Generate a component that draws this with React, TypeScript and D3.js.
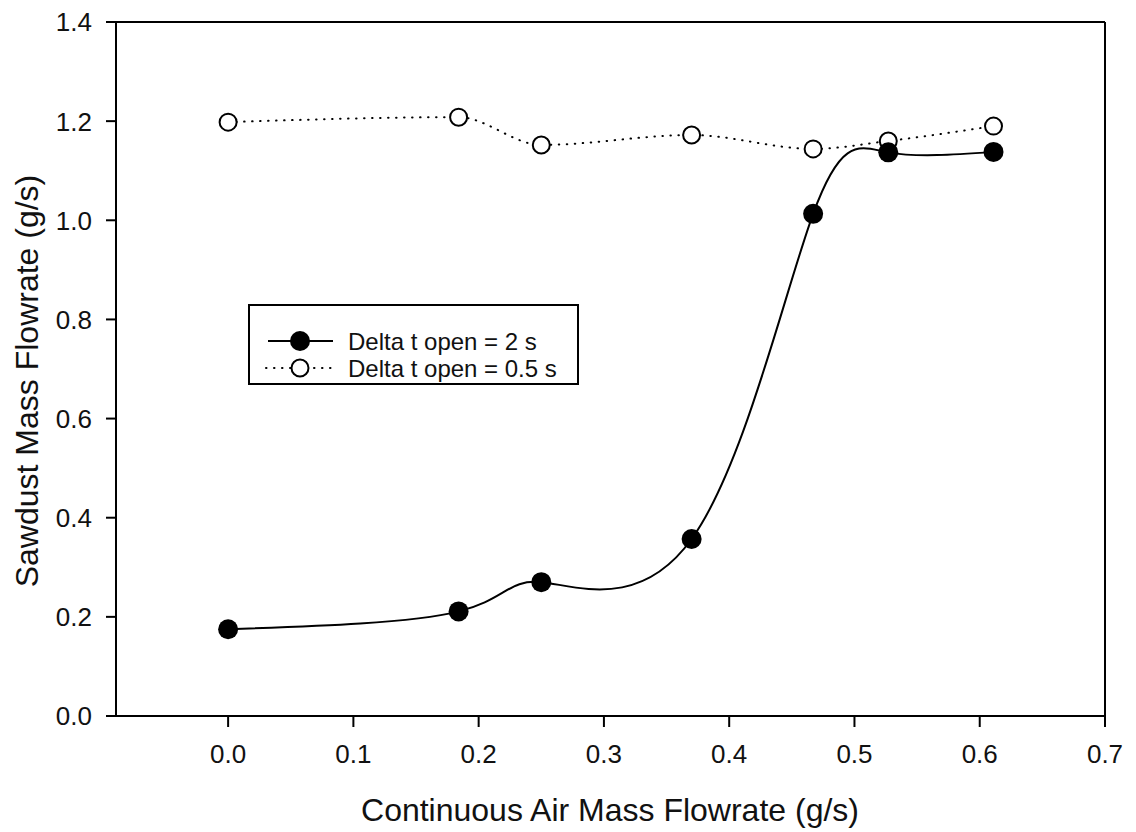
import React from "react";
import * as d3 from "d3";

const xFilled = [0, 0.184, 0.25, 0.37, 0.467, 0.527, 0.611];
const yFilled = [0.175, 0.211, 0.27, 0.357, 1.013, 1.137, 1.138];
const xOpen = [0, 0.184, 0.25, 0.37, 0.467, 0.527, 0.611];
const yOpen = [1.198, 1.208, 1.152, 1.172, 1.144, 1.16, 1.19];
const xTicks = [0, 0.1, 0.2, 0.3, 0.4, 0.5, 0.6, 0.7];
const yTicks = [0, 0.2, 0.4, 0.6, 0.8, 1.0, 1.2, 1.4];
const legendLabels = ["Delta t open = 2 s", "Delta t open = 0.5 s"];

const W = 1136, H = 832;
const L = 116, R = 1105, T = 22, B = 716;
const FONT = "'Liberation Sans', Arial, sans-serif";

export default function App() {
  const x = d3.scaleLinear().domain([-0.0895, 0.7]).range([L, R]);
  const y = d3.scaleLinear().domain([0, 1.4]).range([B, T]);
  const filled = xFilled.map((v, i) => [v, yFilled[i]] as [number, number]);
  const open = xOpen.map((v, i) => [v, yOpen[i]] as [number, number]);
  const line = d3.line<[number, number]>().x(d => x(d[0])).y(d => y(d[1])).curve(d3.curveNatural);
  const lineOpen = d3.line<[number, number]>().x(d => x(d[0])).y(d => y(d[1])).curve(d3.curveMonotoneX);
  const lx = 249, ly = 305, lw = 329, lh = 79;
  const sw = 2;
  return (
    <svg width={W} height={H} style={{ position: "absolute", left: 0, top: 0, background: "#fff" }} fontFamily={FONT}>
      <rect x={0} y={0} width={W} height={H} fill="#fff" />
      <line x1={L} y1={T} x2={R} y2={T} stroke="#000" strokeWidth={sw} />
      <line x1={R} y1={T} x2={R} y2={B} stroke="#000" strokeWidth={sw} />
      <line x1={L} y1={T} x2={L} y2={B} stroke="#000" strokeWidth={sw} />
      <line x1={106} y1={B} x2={R} y2={B} stroke="#000" strokeWidth={sw} />
      {yTicks.map(t => (
        <g key={"y" + t}>
          <line x1={106} x2={L} y1={y(t)} y2={y(t)} stroke="#000" strokeWidth={sw} />
          <text x={92} y={y(t)} dy="0.36em" textAnchor="end" fontSize={26} fill="#111">{t.toFixed(1)}</text>
        </g>
      ))}
      {xTicks.map(t => (
        <g key={"x" + t}>
          <line x1={x(t)} x2={x(t)} y1={B} y2={B + 11} stroke="#000" strokeWidth={sw} />
          <text x={x(t)} y={763} textAnchor="middle" fontSize={26} fill="#111">{t.toFixed(1)}</text>
        </g>
      ))}
      <text x={610} y={821} textAnchor="middle" fontSize={32} fill="#111">Continuous Air Mass Flowrate (g/s)</text>
      <text transform={`translate(38,381) rotate(-90)`} textAnchor="middle" fontSize={32} fill="#111">Sawdust Mass Flowrate (g/s)</text>
      <path d={lineOpen(open) || ""} fill="none" stroke="#000" strokeWidth={2} strokeLinecap="round" strokeDasharray="0.5 7.5" />
      <path d={line(filled) || ""} fill="none" stroke="#000" strokeWidth={2} />
      {open.map((d, i) => (
        <circle key={"o" + i} cx={x(d[0])} cy={y(d[1])} r={8.5} fill="#fff" stroke="#000" strokeWidth={2} />
      ))}
      {filled.map((d, i) => (
        <circle key={"f" + i} cx={x(d[0])} cy={y(d[1])} r={10} fill="#000" />
      ))}
      <rect x={lx} y={ly} width={lw} height={lh} fill="#fff" stroke="#000" strokeWidth={sw} />
      <line x1={268} x2={333} y1={341} y2={341} stroke="#000" strokeWidth={2} />
      <circle cx={300} cy={341} r={10} fill="#000" />
      <text x={348} y={341} dy="0.36em" fontSize={24} fill="#111">{legendLabels[0]}</text>
      <line x1={266} x2={333} y1={368} y2={368} stroke="#000" strokeWidth={2} strokeLinecap="round" strokeDasharray="0.5 7.5" />
      <circle cx={300} cy={368} r={8.5} fill="#fff" stroke="#000" strokeWidth={2} />
      <text x={348} y={368} dy="0.36em" fontSize={24} fill="#111">{legendLabels[1]}</text>
    </svg>
  );
}
